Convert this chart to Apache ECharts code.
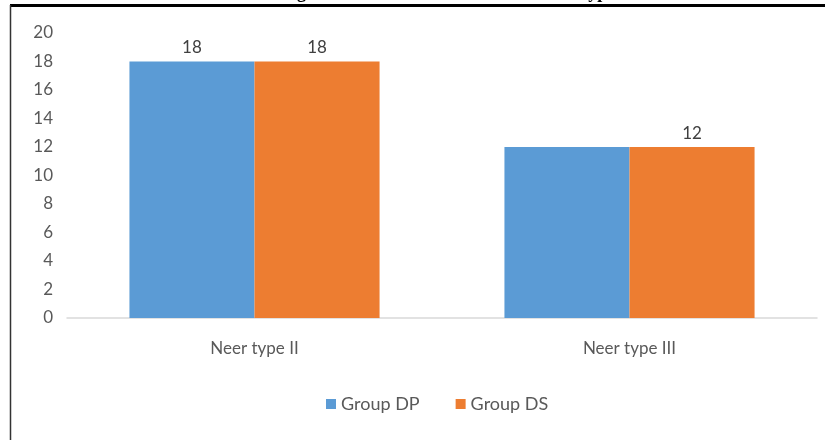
<!DOCTYPE html>
<html>
<head>
<meta charset="utf-8">
<script src="https://cdn.jsdelivr.net/npm/echarts@6/dist/echarts.min.js"></script>
<style>
  html, body { margin: 0; padding: 0; background: #fff; }
  #chart { width: 825px; height: 440px; }
</style>
</head>
<body>
<div id="chart"></div>
<script>
// Neer fracture types per study group
const categories = ['Neer type II', 'Neer type III'];
const groupDP = [18, 12];
const groupDS = [18, 12];
const yTicks = [0, 2, 4, 6, 8, 10, 12, 14, 16, 18, 20];
// which bars carry a value label
const labelDP = [true, false];
const labelDS = [true, true];

const chart = echarts.init(document.getElementById('chart'));
const font = 'Lato, "Open Sans", sans-serif';
const labelStyle = { show: true, position: 'top', distance: 5, fontFamily: font, fontSize: 17, color: '#404040' };

chart.setOption({
  animation: false,
  backgroundColor: '#ffffff',
  title: {
    text: 'Figure 3: Distribution of Neer fracture types',
    left: 276,
    top: -21,
    textStyle: { fontFamily: '"Liberation Serif", serif', fontWeight: 'bold', fontSize: 18, color: '#000' }
  },
  graphic: [
    { type: 'line', z: 100, shape: { x1: 10, y1: 5.5, x2: 825, y2: 5.5 }, style: { stroke: '#000', lineWidth: 3 } },
    { type: 'line', z: 100, shape: { x1: 10.5, y1: 5, x2: 10.5, y2: 440 }, style: { stroke: '#333', lineWidth: 1.5 } }
  ],
  grid: { left: 67, right: 8, top: 33, bottom: 122, containLabel: false },
  legend: {
    data: ['Group DP', 'Group DS'],
    bottom: 22,
    left: 321,
    itemWidth: 10,
    itemHeight: 10,
    itemGap: 36,
    icon: 'rect',
    textStyle: { fontFamily: font, fontSize: 18, color: '#595959' }
  },
  xAxis: {
    type: 'category',
    data: categories,
    axisLine: { lineStyle: { color: '#d9d9d9', width: 1.5 } },
    axisTick: { show: false },
    axisLabel: { fontFamily: font, fontSize: 17, color: '#595959', margin: 22 }
  },
  yAxis: {
    type: 'value',
    min: yTicks[0],
    max: yTicks[yTicks.length - 1],
    interval: 2,
    splitLine: { show: false },
    axisLine: { show: false },
    axisTick: { show: false },
    axisLabel: { fontFamily: font, fontSize: 17, color: '#595959', margin: 14 }
  },
  series: [
    {
      name: 'Group DP',
      type: 'bar',
      data: groupDP.map((v, i) => ({ value: v, label: { show: labelDP[i] } })),
      barGap: '0%',
      barCategoryGap: '33.3%',
      itemStyle: { color: '#5b9bd5' },
      label: labelStyle
    },
    {
      name: 'Group DS',
      type: 'bar',
      data: groupDS.map((v, i) => ({ value: v, label: { show: labelDS[i] } })),
      itemStyle: { color: '#ed7d31' },
      label: labelStyle
    }
  ]
});
</script>
</body>
</html>
